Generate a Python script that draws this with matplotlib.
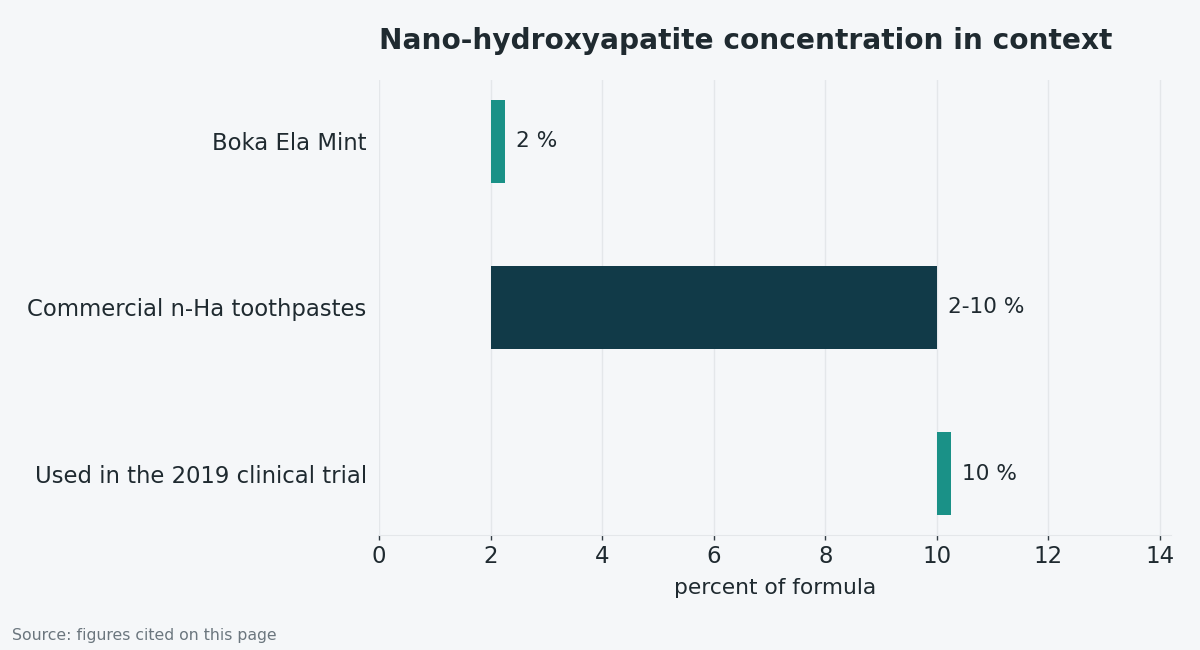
import matplotlib
matplotlib.use("Agg")
import matplotlib.pyplot as plt

plt.rcParams["font.family"] = ["DejaVu Sans"]

categories = ["Boka Ela Mint", "Commercial n-Ha toothpastes", "Used in the 2019 clinical trial"]
starts = [2, 2, 10]
ends = [2, 10, 10]
value_labels = ["2 %", "2-10 %", "10 %"]
xticks = [0, 2, 4, 6, 8, 10, 12, 14]

BG = "#f5f7f9"
TEAL = "#1a9187"
DARK = "#113a48"
TEXT = "#1f2a30"
GRID = "#e4e7ea"
MIN_W = 0.25

fig = plt.figure(figsize=(12, 6.5), dpi=100, facecolor=BG)
ax = fig.add_axes([0.316, 0.177, 0.66, 0.7])
ax.set_facecolor(BG)

ypos = list(range(len(categories)))
for y, s, e, lab in zip(ypos, starts, ends, value_labels):
    w = e - s
    color = DARK if w > 0 else TEAL
    w = max(w, MIN_W)
    ax.barh(y, w, left=s, height=0.5, color=color, zorder=3)
    ax.annotate(lab, xy=(s + w, y), xytext=(8, 0), textcoords="offset points",
                ha="left", va="center", fontsize=15.6, color=TEXT)

ax.set_yticks(ypos)
ax.set_yticklabels(categories, fontsize=16.4, color=TEXT)
ax.set_ylim(len(categories) - 1 + 0.37, -0.37)
ax.set_xlim(0, 14.2)
ax.set_xticks(xticks)
ax.set_xticklabels([str(t) for t in xticks], fontsize=16.5, color=TEXT)
ax.tick_params(axis="y", length=0, pad=9)
ax.tick_params(axis="x", length=3.5, color="#333d44", width=1, pad=4)
ax.grid(axis="x", color=GRID, linewidth=1, zorder=0)
for sp in ["top", "right", "left"]:
    ax.spines[sp].set_visible(False)
ax.spines["bottom"].set_color(GRID)
ax.set_xlabel("percent of formula", fontsize=15.7, color=TEXT, labelpad=7)
ax.set_title("Nano-hydroxyapatite concentration in context", fontsize=20.2,
             fontweight="bold", color=TEXT, pad=22, loc="left")
fig.text(0.01, 0.023, "Source: figures cited on this page", fontsize=11.35,
         color="#6b767e", ha="left", va="center")

fig.savefig("out.png", dpi=100, facecolor=BG)
